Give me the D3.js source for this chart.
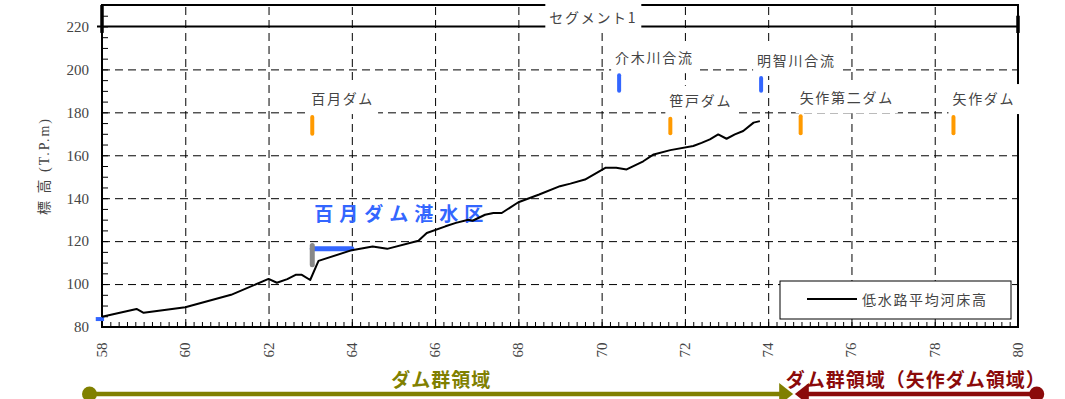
<!DOCTYPE html>
<html lang="ja">
<head>
<meta charset="UTF-8" />
<title>河床高縦断図</title>
<script src="https://cdn.jsdelivr.net/npm/d3@7"></script>
<style>
	body { margin: 0; background: #fff; }
	svg text { font-family: "Noto Sans CJK JP", sans-serif; }
</style>
</head>
<body>
<svg id="chart" width="1065" height="399"></svg>
<script>
// 低水路平均河床高 (km, T.P.m)
var bedKm = [58.0, 58.83, 59.0, 60.0, 61.1, 62.0, 62.2, 62.45, 62.65, 62.8, 63.0, 63.2, 64.0, 64.5, 64.85,
	65.6, 65.8, 66.25, 66.5, 66.8, 66.9, 67.2, 67.4, 67.6, 68.0, 68.5, 69.0, 69.25, 69.6, 70.1, 70.35,
	70.6, 71.0, 71.25, 71.65, 72.2, 72.4, 72.6, 72.8, 73.0, 73.2, 73.4, 73.65, 73.8];
var bedElev = [84.8, 88.4, 86.6, 89.2, 95.0, 102.4, 100.6, 102.3, 104.3, 104.3, 101.9, 110.8, 115.8, 117.5, 116.4,
	120.2, 123.8, 126.9, 128.5, 130.0, 129.5, 132.3, 133.1, 133.1, 138.1, 141.7, 145.6, 146.8, 148.7, 154.2, 154.2,
	153.4, 157.2, 160.4, 162.4, 164.3, 165.8, 167.4, 169.7, 167.7, 169.7, 171.3, 175.2, 175.9];

var xTickValues = [58, 60, 62, 64, 66, 68, 70, 72, 74, 76, 78, 80];
var yTickValues = [80, 100, 120, 140, 160, 180, 200, 220];

// ダム (orange)
var damNames = ["百月ダム", "笹戸ダム", "矢作第二ダム", "矢作ダム"];
var damKm = [63.05, 71.65, 74.78, 78.45];
var damTop = [177.8, 177.0, 178.2, 177.8];
var damBottom = [170.0, 170.2, 170.2, 170.2];

// 合流 (blue)
var confNames = ["介木川合流", "明智川合流"];
var confKm = [70.42, 73.83];
var confTop = [197.3, 196.0];
var confBottom = [190.0, 190.0];

// 湛水区
var reservoirName = "百月ダム湛水区";
var reservoirKm = [63.05, 64.0];
var reservoirElev = 116.4;
var reservoirGauge = [109.0, 118.0];
var reservoirLabelElev = 133.3;
var startMarkKm = [57.85, 58.05];
var startMarkElev = 83.7;

var segmentName = "セグメント1";
var segmentLabelKm = 69.8;

var regionNames = ["ダム群領域", "ダム群領域（矢作ダム領域）"];
var regionStart = [57.7, 74.64];
var regionEnd = [74.6, 80.45];
var regionColors = ["#808000", "#8b0a0a"];

var legendName = "低水路平均河床高";

(function () {
	var svg = d3.select("#chart");
	var left = 102, right = 1018, top = 5, bottom = 327;

	var x = d3.scaleLinear().domain([58, 80]).range([left, right]);
	var y = d3.scaleLinear().domain([80, 230]).range([bottom, top]);

	// grid
	var gx = svg.append("g")
		.attr("transform", "translate(0," + bottom + ")")
		.call(d3.axisBottom(x).tickValues(xTickValues.slice(1, -1)).tickSize(-(bottom - top)).tickFormat(""));
	gx.select(".domain").remove();
	gx.selectAll("line").attr("stroke", "#000").attr("stroke-dasharray", "8,5");

	var gy = svg.append("g")
		.attr("transform", "translate(" + left + ",0)")
		.call(d3.axisLeft(y).tickValues(yTickValues.slice(1, -1)).tickSize(-(right - left)).tickFormat(""));
	gy.select(".domain").remove();
	gy.selectAll("line").attr("stroke", "#000").attr("stroke-dasharray", "8,5");

	// minor ticks
	var mx = svg.append("g")
		.attr("transform", "translate(0," + bottom + ")")
		.call(d3.axisBottom(x).tickValues(d3.range(58, 80.01, 0.2)).tickSize(-5).tickFormat(""));
	mx.select(".domain").remove();
	mx.selectAll("line").attr("stroke", "#000");

	var my = svg.append("g")
		.attr("transform", "translate(" + left + ",0)")
		.call(d3.axisLeft(y).tickValues(d3.range(80, 230, 5)).tickSize(-6).tickFormat(""));
	my.select(".domain").remove();
	my.selectAll("line").attr("stroke", "#000");

	// segment band line at 220
	svg.append("line")
		.attr("x1", left - 5).attr("x2", right)
		.attr("y1", y(220)).attr("y2", y(220))
		.attr("stroke", "#000").attr("stroke-width", 2);

	// frame
	svg.append("rect")
		.attr("x", left).attr("y", top)
		.attr("width", right - left).attr("height", bottom - top)
		.attr("fill", "none").attr("stroke", "#000").attr("stroke-width", 2);
	svg.append("line").attr("x1", left).attr("x2", left).attr("y1", top).attr("y2", y(217))
		.attr("stroke", "#000").attr("stroke-width", 3.5);
	svg.append("line").attr("x1", right).attr("x2", right).attr("y1", y(225)).attr("y2", y(217))
		.attr("stroke", "#000").attr("stroke-width", 3.5);

	// y tick labels
	var ya = svg.append("g")
		.attr("transform", "translate(" + left + ",0)")
		.call(d3.axisLeft(y).tickValues(yTickValues).tickSize(0).tickPadding(13));
	ya.select(".domain").remove();
	ya.selectAll("text")
		.style("font-family", "'Liberation Serif', serif")
		.style("font-size", "15px")
		.attr("fill", "#444");

	// x tick labels (rotated)
	svg.append("g").selectAll("text")
		.data(xTickValues)
		.enter()
		.append("text")
		.attr("transform", function (d) { return "translate(" + x(d) + ",350) rotate(-90)"; })
		.attr("text-anchor", "middle")
		.attr("dominant-baseline", "central")
		.style("font-family", "'Liberation Serif', serif")
		.style("font-size", "15px")
		.attr("fill", "#444")
		.text(function (d) { return d; });

	// y title
	svg.append("text")
		.attr("transform", "translate(44," + (top + bottom) / 2 + ") rotate(-90)")
		.attr("text-anchor", "middle")
		.attr("dominant-baseline", "central")
		.style("font-family", "'Liberation Serif', 'Noto Sans CJK JP', serif")
		.style("font-size", "14px")
		.style("letter-spacing", "2px")
		.attr("fill", "#444")
		.text("標 高 (T.P.m)");

	// labels with white boxes
	var labelLayer = svg.append("g");
	function addLabel(txt, lx, ly, anchor) {
		var g = labelLayer.append("g");
		var bg = g.append("rect").attr("fill", "#fff");
		var t = g.append("text")
			.attr("x", lx).attr("y", ly)
			.attr("text-anchor", anchor || "start")
			.attr("dominant-baseline", "central")
			.style("font-size", "14px")
			.style("letter-spacing", "1.7px")
			.attr("fill", "#444")
			.text(txt);
		var b = t.node().getBBox();
		bg.attr("x", b.x - 4).attr("y", ly - 14)
			.attr("width", b.width + 8).attr("height", 30);
	}

	addLabel(segmentName, x(segmentLabelKm), (top + y(220)) / 2 + 1, "middle");
	// make the segment box exactly cover the band
	labelLayer.select("rect").attr("y", top - 2).attr("height", y(220) - top + 4);

	damNames.forEach(function (n, i) {
		addLabel(n, x(damKm[i]) - 1, y(damTop[i]) - 19);
	});
	confNames.forEach(function (n, i) {
		addLabel(n, x(confKm[i]) - 4, y(confTop[i]) - 18);
	});

	// dam marks
	svg.append("g").selectAll("line")
		.data(damKm)
		.enter()
		.append("line")
		.attr("x1", function (d) { return x(d); })
		.attr("x2", function (d) { return x(d); })
		.attr("y1", function (d, i) { return y(damTop[i]); })
		.attr("y2", function (d, i) { return y(damBottom[i]); })
		.attr("stroke", "#ff9a00").attr("stroke-width", 4).attr("stroke-linecap", "round");

	svg.append("g").selectAll("line")
		.data(confKm)
		.enter()
		.append("line")
		.attr("x1", function (d) { return x(d); })
		.attr("x2", function (d) { return x(d); })
		.attr("y1", function (d, i) { return y(confTop[i]); })
		.attr("y2", function (d, i) { return y(confBottom[i]); })
		.attr("stroke", "#3366ff").attr("stroke-width", 4).attr("stroke-linecap", "round");

	// reservoir
	svg.append("line")
		.attr("x1", x(reservoirKm[0])).attr("x2", x(reservoirKm[1]))
		.attr("y1", y(reservoirElev)).attr("y2", y(reservoirElev))
		.attr("stroke", "#3366ff").attr("stroke-width", 5).attr("stroke-linecap", "round");
	svg.append("line")
		.attr("x1", x(reservoirKm[0])).attr("x2", x(reservoirKm[0]))
		.attr("y1", y(reservoirGauge[0])).attr("y2", y(reservoirGauge[1]))
		.attr("stroke", "#888").attr("stroke-width", 5).attr("stroke-linecap", "round");
	svg.append("text")
		.attr("x", x(reservoirKm[0]) + 2).attr("y", y(reservoirLabelElev))
		.attr("dominant-baseline", "central")
		.style("font-size", "19px").style("font-weight", "bold")
		.style("letter-spacing", "6px")
		.attr("fill", "#3366ff")
		.text(reservoirName);

	svg.append("line")
		.attr("x1", x(startMarkKm[0])).attr("x2", x(startMarkKm[1]))
		.attr("y1", y(startMarkElev)).attr("y2", y(startMarkElev))
		.attr("stroke", "#3366ff").attr("stroke-width", 4);

	// bed line
	var line = d3.line()
		.x(function (d, i) { return x(bedKm[i]); })
		.y(function (d) { return y(d); });
	svg.append("path")
		.datum(bedElev)
		.attr("d", line)
		.attr("fill", "none").attr("stroke", "#000").attr("stroke-width", 2)
		.attr("stroke-linejoin", "round");

	// legend
	var lg = svg.append("g").attr("transform", "translate(780,281)");
	lg.append("rect").attr("width", 231).attr("height", 38)
		.attr("fill", "#fff").attr("stroke", "#000").attr("stroke-width", 1);
	lg.append("line").attr("x1", 27).attr("x2", 77).attr("y1", 18).attr("y2", 18)
		.attr("stroke", "#000").attr("stroke-width", 2);
	lg.append("text").attr("x", 82).attr("y", 18)
		.attr("dominant-baseline", "central")
		.style("font-size", "14px").style("letter-spacing", "1.7px")
		.attr("fill", "#444")
		.text(legendName);

	// regions at the bottom
	var ry = 394;
	regionNames.forEach(function (n, i) {
		var c = regionColors[i];
		var xs = x(regionStart[i]), xe = x(regionEnd[i]);
		var g = svg.append("g");
		if (i === 0) {
			g.append("line").attr("x1", xs).attr("x2", xe - 12).attr("y1", ry).attr("y2", ry)
				.attr("stroke", c).attr("stroke-width", 4.5);
			g.append("circle").attr("cx", xs).attr("cy", ry).attr("r", 7.5).attr("fill", c);
			g.append("path").attr("d", "M" + xe + "," + ry + "L" + (xe - 14) + "," + (ry - 11) + "L" + (xe - 14) + "," + (ry + 11) + "Z")
				.attr("fill", c);
		} else {
			g.append("line").attr("x1", xs + 12).attr("x2", xe).attr("y1", ry).attr("y2", ry)
				.attr("stroke", c).attr("stroke-width", 4.5);
			g.append("circle").attr("cx", xe).attr("cy", ry).attr("r", 7.5).attr("fill", c);
			g.append("path").attr("d", "M" + xs + "," + ry + "L" + (xs + 14) + "," + (ry - 11) + "L" + (xs + 14) + "," + (ry + 11) + "Z")
				.attr("fill", c);
		}
		g.append("text")
			.attr("x", (xs + xe) / 2).attr("y", 378)
			.attr("text-anchor", "middle")
			.attr("dominant-baseline", "central")
			.style("font-size", "19px").style("font-weight", "bold")
			.style("letter-spacing", "1px")
			.attr("fill", c)
			.text(n);
	});
}).call(this);
</script>
</body>
</html>
